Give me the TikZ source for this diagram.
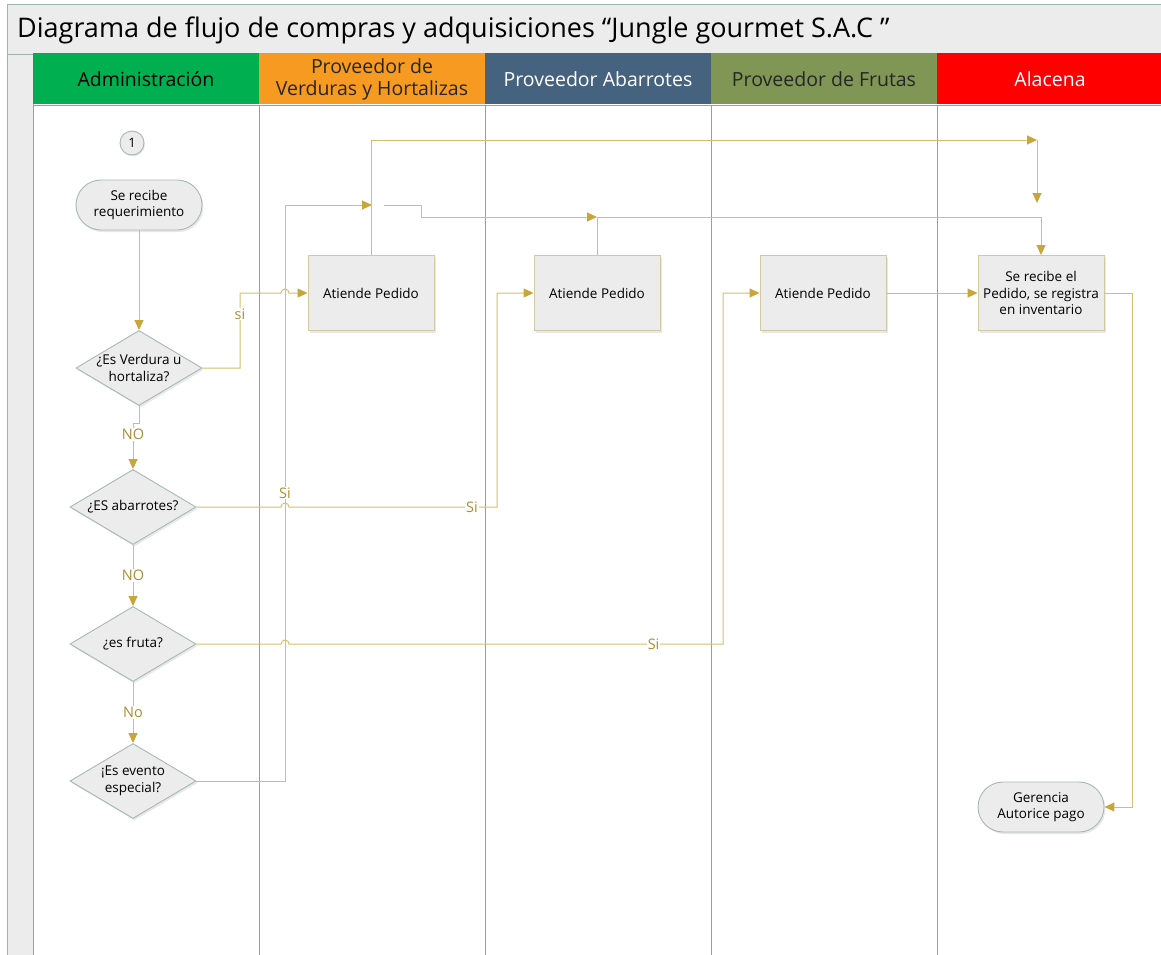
\documentclass[tikz,border=0pt]{standalone}
\usepackage{fontspec}
\setmainfont{Open Sans}
\usetikzlibrary{arrows.meta,shapes.geometric,shadows}

\definecolor{frameline}{HTML}{9DB2AB}
\definecolor{bargray}{HTML}{ECECEC}
\definecolor{laneline}{HTML}{8CA59E}
\definecolor{hgreen}{HTML}{00B050}
\definecolor{horange}{HTML}{F79A21}
\definecolor{hblue}{HTML}{45627E}
\definecolor{holive}{HTML}{7F9654}
\definecolor{hred}{HTML}{FF0000}
\definecolor{boxfill}{HTML}{ECECEC}
\definecolor{boxline}{HTML}{D2C8A4}
\definecolor{termline}{HTML}{A6B9B2}
\definecolor{flowline}{HTML}{D6BE6E}
\definecolor{tipgold}{HTML}{C9A63A}
\definecolor{labgold}{HTML}{A88E34}

\tikzset{
  head/.style={draw=none,minimum width=226,minimum height=51,inner sep=0pt,align=center,font=\fontsize{19.5}{22}\selectfont},
  proc/.style={draw=boxline,fill=boxfill,line width=0.9pt,minimum width=126,minimum height=75,inner sep=1pt,align=center,font=\fontsize{13.5}{16.5}\selectfont,drop shadow={shadow xshift=1.5pt,shadow yshift=-2pt,opacity=.18}},
  term/.style={proc,draw=termline,rounded corners=25,minimum height=50},
  deci/.style={diamond,draw=termline,fill=boxfill,line width=0.9pt,minimum width=126,minimum height=75,inner sep=0pt,drop shadow={shadow xshift=1.5pt,shadow yshift=-2pt,opacity=.18}},
  dlab/.style={align=center,inner sep=0pt,font=\fontsize{13.5}{16.5}\selectfont},
  circ/.style={circle,draw=termline,fill=boxfill,line width=0.9pt,minimum size=24,inner sep=0pt,font=\fontsize{13}{15}\selectfont,drop shadow={shadow xshift=1pt,shadow yshift=-1.5pt,opacity=.18}},
  flow/.style={draw=flowline,line width=1pt},
  arr/.style={-{Triangle[length=10pt,width=9pt,color=tipgold]}},
  lab/.style={fill=white,inner sep=1pt,text=labgold,font=\fontsize{14.5}{16}\selectfont}
}

\begin{document}
\begin{tikzpicture}[x=1pt,y=-1pt]
\useasboundingbox (0,0) rectangle (1161,955);
\fill[white] (0,0) rectangle (1161,955);
\draw[frameline,fill=bargray] (7,4) rectangle (1175,54);
\draw[frameline,fill=bargray] (7,54) rectangle (33,970);
\node[anchor=west,inner sep=0pt,font=\fontsize{27}{30}\selectfont] (titulo) at (17,30) {Diagrama de flujo de compras y adquisiciones “Jungle gourmet S.A.C ”};

\node[head,fill=hgreen] (admin) at (146,79) {Administración};
\node[head,fill=horange,text=black!85] (verduras) at (372,79) {Proveedor de\\Verduras y Hortalizas};
\node[head,fill=hblue,text=white] (abarrotes) at (598,79) {Proveedor Abarrotes};
\node[head,fill=holive,text=black!85] (frutas) at (824,79) {Proveedor de Frutas};
\node[head,fill=hred,text=white] (alacena) at (1050,79) {Alacena};

\foreach \x in {33,259,485,711,937}
  \draw[laneline,line width=1pt] (\x,105) -- (\x,970);
\draw[laneline] (33,105) -- (1175,105);

\node[circ] (uno) at (132,143) {1};
\node[term] (req) at (139,205) {Se recibe\\requerimiento};
\node[deci,label={[dlab]center:¿Es Verdura u\\hortaliza?}] (verd) at (139,368) {};
\node[deci,label={[dlab]center:¿ES abarrotes?}] (abar) at (133,507) {};
\node[deci,label={[dlab]center:¿es fruta?}] (frut) at (133,644) {};
\node[deci,label={[dlab]center:¡Es evento\\especial?}] (even) at (133,781) {};
\node[proc] (at1) at (371,293) {Atiende Pedido};
\node[proc] (at2) at (597,293) {Atiende Pedido};
\node[proc] (at3) at (823,293) {Atiende Pedido};
\node[proc] (inv) at (1041,293) {Se recibe el\\Pedido, se registra\\en inventario};
\node[term] (pago) at (1041,807) {Gerencia\\Autorice pago};

\coordinate (j1) at (372,205);
\coordinate (j2) at (1037,140);
\coordinate (j3) at (1037,203);
\coordinate (j4) at (384,205);
\coordinate (j5) at (597,217);

\draw[flow,arr] (req) -- (verd);
\draw[flow,arr] (verd.east) -- (240,368) -- node[lab,pos=.72]{si} (240,293) -- (281,293) arc[start angle=180,end angle=360,radius=4] -- (at1.west);
\draw[flow,arr] (verd.south) -- (139,423) -- (133,423) -- node[lab,pos=.25]{NO} (abar.north);
\draw[flow,arr] (abar.east) -- (281,507) arc[start angle=180,end angle=360,radius=4] -- node[lab,pos=.88]{Si} (497,507) -- (497,293) -- (at2.west);
\draw[flow,arr] (abar.south) -- node[lab]{NO} (frut.north);
\draw[flow,arr] (frut.east) -- (281,644) arc[start angle=180,end angle=360,radius=4] -- node[lab,pos=.84]{Si} (723,644) -- (723,293) -- (at3.west);
\draw[flow,arr] (frut.south) -- node[lab]{No} (even.north);
\draw[flow,arr] (even.east) -- (285,781) -- node[lab,pos=.5]{Si} (285,205) -- (j1);
\draw[flow,arr] (at1.north) |- (j2);
\draw[flow,arr] (j2) -- (j3);
\draw[flow,arr] (j4) -- (421,205) -- (421,217) -- (j5);
\draw[flow,arr] (at2.north) |- (1041,217) -- (inv.north);
\draw[flow,arr] (at3.east) -- (inv.west);
\draw[flow,arr] (inv.east) -- (1132,293) |- (pago.east);
\end{tikzpicture}
\end{document}
